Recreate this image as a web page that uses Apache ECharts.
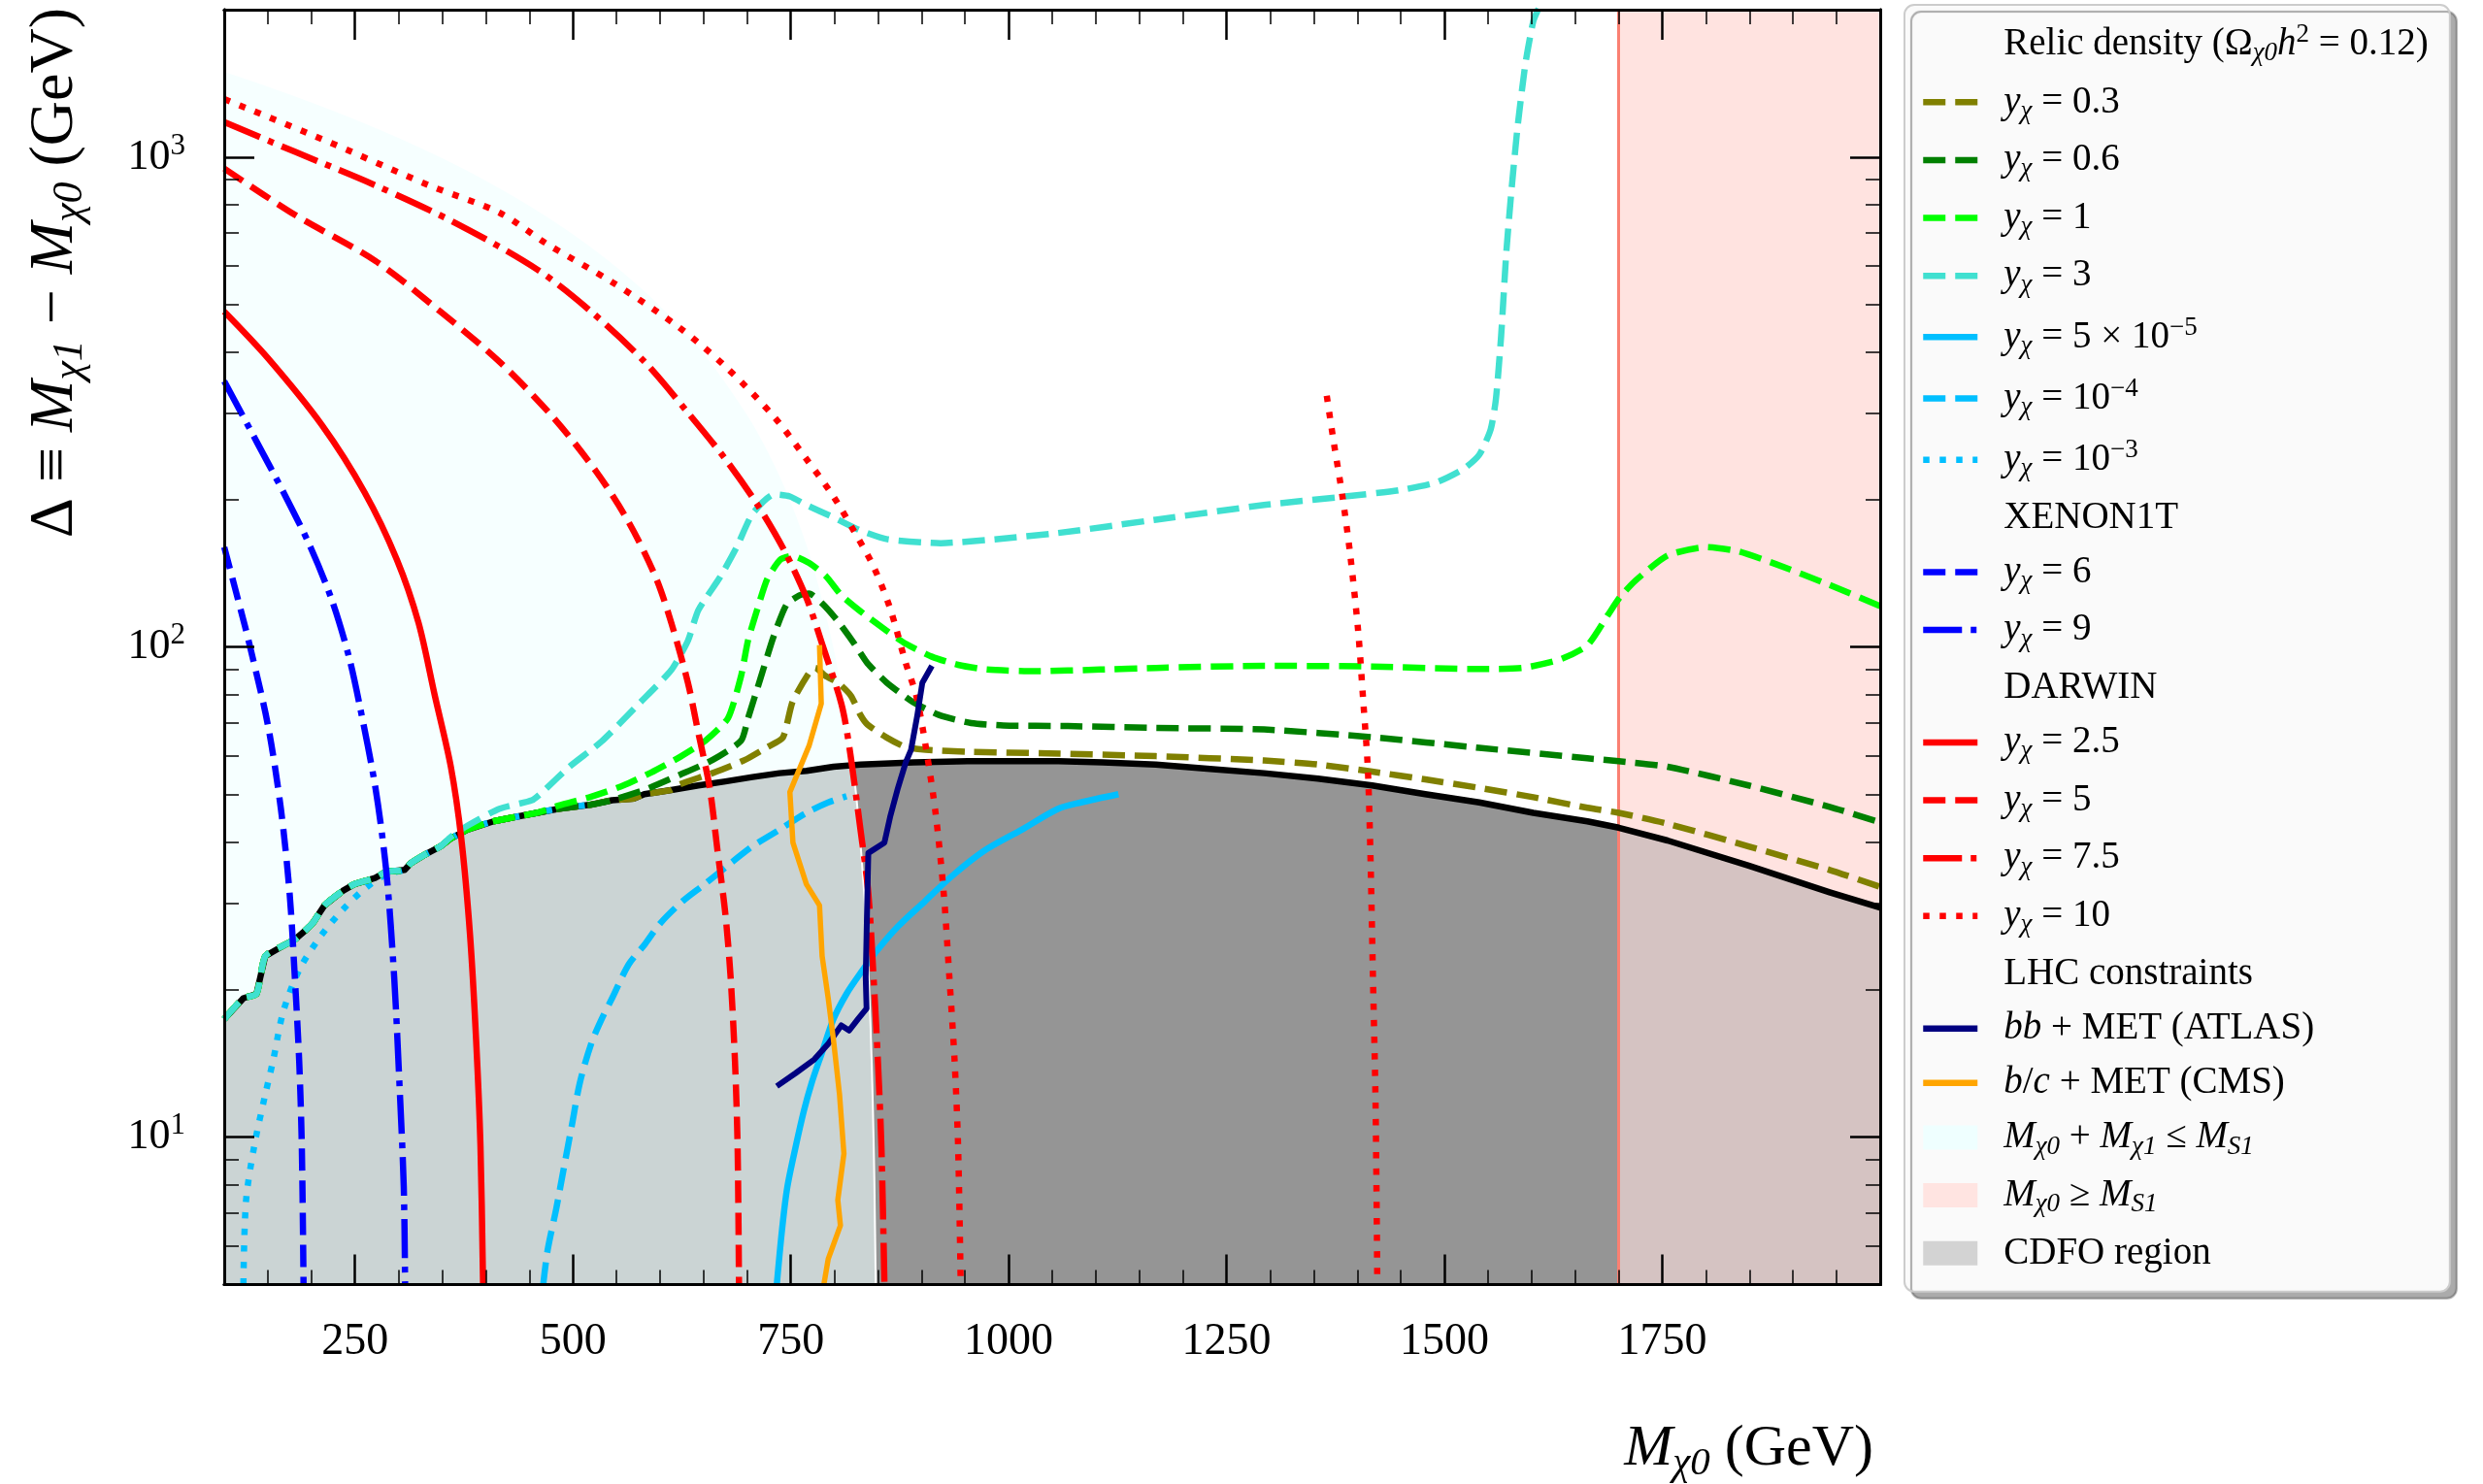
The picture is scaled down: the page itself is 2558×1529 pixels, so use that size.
<!DOCTYPE html>
<html><head><meta charset="utf-8">
<script src="https://cdn.jsdelivr.net/npm/echarts@6/dist/echarts.min.js"></script>
<style>html,body{margin:0;padding:0;background:#fff;}#c{width:2558px;height:1529px;}</style>
</head><body><div id="c"></div>
<script>
// ---------------- data ----------------
const MS1 = 1700; // M_S1 (GeV)
const xTickValues = [250, 500, 750, 1000, 1250, 1500, 1750];
const xMinorValues = [150,200,300,350,400,450,550,600,650,700,800,850,900,950,1050,1100,1150,1200,1300,1350,1400,1450,1550,1600,1650,1700,1800,1850,1900,1950];
const yTickValues = [10, 100, 1000];
const yMinorValues = [6,7,8,9,20,30,40,50,60,70,80,90,200,300,400,500,600,700,800,900];

// kinematic boundary M_chi0 + M_chi1 = M_S1
const kinBoundary = [[100,1500],[150,1400],[200,1300],[250,1200],[300,1100],[350,1000],[400,900],[450,800],[500,700],[550,600],[600,500],[650,400],[700,300],[725,250],[750,200],[775,150],[800,100],[812,76],[825,50],[835,30],[840,20],[843,14],[845,10],[846,8],[847.5,5]];

// CDFO region boundary (black)
const cdfoBoundary = [[100,17.4],[122,19.2],[137,19.6],[147,23.4],[168,24.6],[181,25.3],[193,26.4],[202,27.4],[215,29.7],[236,31.8],[249,32.8],[273,33.8],[286,34.8],[307,35.1],[314,36.2],[329,37.6],[348,39.2],[360,40.7],[379,42.4],[409,44.1],[434,45.0],[459,45.9],[484,46.8],[521,47.7],[545,48.7],[570,49.1],[582,50.1],[613,51.1],[644,52.2],[675,53.2],[706,54.3],[737,55.3],[768,55.9],[799,57.0],[830,57.6],[891,58.2],[953,58.5],[1057,58.5],[1108,58.2],[1169,57.6],[1231,56.4],[1293,55.3],[1355,53.9],[1417,52.2],[1478,50.1],[1540,48.2],[1602,45.9],[1664,44.1],[1700,42.8],[1756,40.3],[1849,35.8],[1942,31.6],[2000,29.4]];

// relic density curves
const relic03 = [[100,17.4],[122,19.2],[137,19.6],[147,23.4],[168,24.6],[181,25.3],[193,26.4],[202,27.4],[215,29.7],[236,31.8],[249,32.8],[273,33.8],[286,34.8],[307,35.1],[314,36.2],[329,37.6],[348,39.2],[360,40.7],[379,42.4],[409,44.1],[434,45.0],[459,45.9],[484,46.8],[521,47.7],[545,48.7],[570,49.1],[582,50.1],[613,51.1],[623,52.5],[660,55.3],[697,58.8],[723,62.5],[741,65.4],[752,77.3],[771,88.6],[778,90.7],[790,87.3],[804,84.7],[819,79.6],[830,72.7],[838,69.5],[860,65.4],[882,62.5],[905,61.7],[957,61.1],[1046,60.7],[1169,59.9],[1293,58.7],[1355,57.6],[1417,55.7],[1478,53.7],[1540,51.6],[1602,49.4],[1664,47.0],[1700,45.9],[1756,43.6],[1849,39.2],[1942,35.1],[2000,32.4]];
const relic06 = [[100,17.4],[122,19.2],[137,19.6],[147,23.4],[168,24.6],[181,25.3],[193,26.4],[202,27.4],[215,29.7],[236,31.8],[249,32.8],[273,33.8],[286,34.8],[307,35.1],[314,36.2],[329,37.6],[348,39.2],[360,40.7],[379,42.4],[409,44.1],[434,45.0],[459,45.9],[484,46.8],[521,47.7],[545,48.7],[582,51.1],[623,54.9],[660,58.8],[693,64.4],[701,71.6],[715,86.0],[730,104.7],[745,122],[760,127.6],[771,128.6],[786,122.8],[804,113],[823,101.6],[838,92.7],[860,84.7],[890,77.3],[920,72.7],[957,70.0],[994,69.2],[1068,69.0],[1169,68.4],[1293,67.9],[1417,65.5],[1540,62.3],[1664,59.3],[1700,58.5],[1756,57.0],[1849,52.2],[1942,47.2],[2000,43.9]];
const relic1 = [[100,17.4],[122,19.2],[137,19.6],[147,23.4],[168,24.6],[181,25.3],[193,26.4],[202,27.4],[215,29.7],[236,31.8],[249,32.8],[273,33.8],[286,34.8],[307,35.1],[314,36.2],[329,37.6],[348,39.2],[360,40.7],[379,42.4],[409,44.1],[434,45.0],[459,45.9],[484,47.5],[521,49.5],[558,52.2],[590,55.5],[623,59.7],[652,64.4],[678,71.6],[693,87.3],[701,103.2],[712,120.1],[723,137.7],[738,150.8],[752,153.6],[771,148.5],[790,139.8],[808,127.6],[830,118.3],[860,108],[882,101.6],[912,95.6],[942,92.0],[975,90.0],[1031,89.3],[1105,90.0],[1169,90.7],[1293,91.6],[1417,91.3],[1540,90.2],[1590,90.7],[1633,94.4],[1664,100.8],[1688,116.6],[1701,126.2],[1719,136.6],[1756,153.8],[1800,160],[1837,156.9],[1880,147.8],[1942,133.9],[2000,121.3]];
const relic3 = [[100,17.4],[122,19.2],[137,19.6],[147,23.4],[168,24.6],[181,25.3],[193,26.4],[202,27.4],[215,29.7],[236,31.8],[249,32.8],[273,33.8],[286,34.8],[307,35.1],[314,36.2],[329,37.6],[348,39.2],[360,41.0],[379,43.2],[416,46.8],[453,48.7],[465,50.6],[496,57.0],[533,64.2],[576,76.7],[613,89.8],[632,103],[644,119],[669,139],[688,160],[706,187],[731,205],[749,203],[768,195],[799,184],[830,173],[861,166],[922,163],[984,166],[1057,171],[1169,182],[1293,195],[1386,203],[1448,209],[1491,217],[1522,231],[1540,247],[1553,278],[1559,320],[1565,430],[1571,639],[1577,859],[1584,1156],[1593,1555],[1602,1895],[1608,2010]];
const fimp5e5 = [[734,5.0],[740,6.47],[746,7.89],[756,9.62],[765,11.3],[774,12.9],[786,14.9],[799,17.4],[814,19.6],[830,21.6],[848,23.9],[873,26.9],[904,30.3],[935,34.1],[972,38.4],[1015,42.4],[1057,46.8],[1083,48.2],[1126,50.1]];
const fimp1e4 = [[466,5.0],[471,5.87],[481,7.15],[490,8.71],[499,10.6],[508,12.9],[521,15.5],[533,17.4],[545,19.2],[564,22.5],[583,24.8],[601,27.4],[626,30.3],[651,32.8],[675,35.5],[706,39.2],[737,42.4],[768,45.9],[793,48.2],[814,49.6]];
const fimp1e3 = [[122,5.0],[125,7.4],[134.5,9.6],[147,12.2],[156,14.3],[168,18.1],[187,22.1],[212,25.9],[236,29.1],[261,32.1],[286,34.4],[307,35.1],[314,36.2],[329,37.6],[348,39.2],[360,40.7],[379,42.4],[409,44.1],[434,45.0],[459,45.9],[484,46.8],[521,47.7]];
// XENON1T
const xenon6 = [[100,160],[119,119],[128,103],[150,69.5],[165,46.8],[175,31.5],[181,21.2],[186,14.3],[189,9.6],[191,5.0]];
const xenon9 = [[100,349],[137.5,262],[168,207],[199,160],[224,124],[243,95.7],[255,76.7],[273.5,51.6],[286,34.8],[295,21.2],[301,12.9],[306,7.9],[307.5,5.0]];
// DARWIN
const darwin25 = [[100,484],[150,389],[212,284],[261,207],[298,151],[323,112],[341.5,79.8],[360,57.0],[372,40.7],[382,25.9],[389,15.8],[394,9.6],[397,5.0]];
const darwin5 = [[100,948],[181,763],[273.5,614],[348,484],[416,382],[477,295],[527,228],[564,180],[595,139],[613,112],[632,84.6],[644,66.8],[657,51.6],[666,38.4],[675,28.5],[681,21.2],[686,14.3],[689,9.6],[690.6,5.0]];
const darwin75 = [[100,1179],[181,1026],[273.5,876],[366,733],[459,590],[521,484],[582.5,382],[632,301],[675,242],[712,195],[743,157],[768,126],[786,101.5],[808,76.7],[817,62.9],[830,42.4],[839,31.5],[845,21.2],[850,14.3],[854,9.6],[857.5,5.0]];
const darwin10a = [[100,1314],[212,1089],[335,876],[416,770],[471,664],[545,556],[620,452],[675,374],[731,295],[768,242],[799,203],[823,172],[845,146],[864,120],[882,92.7],[894,79.6],[905,62.5],[916,46.1],[925.5,31.5],[932,21.2],[938,14.3],[942,9.6],[945,5.0]];
const darwin10b = [[1365,326],[1373,262],[1383,203],[1392,154],[1401,108],[1407,77],[1412,57],[1415,38.4],[1418,21.2],[1421,11.7],[1423,5.0]];
// LHC
const atlasBB = [[734,12.7],[755.5,13.5],[777,14.4],[793,15.5],[808,16.9],[817,16.5],[827,17.4],[837,18.3],[836,21.2],[837,25.9],[838,31.5],[839,38.0],[857.5,39.9],[864,45.0],[873,51.6],[882,58.2],[888,61.7],[895,72.2],[901,84.6],[912,91.6]];
const cmsBC = [[783,101],[785,76.7],[771,62.9],[749,50.6],[752.5,39.9],[768,32.8],[783,29.7],[786,23.4],[793,19.2],[799,15.8],[806,12.2],[811,9.25],[804,7.44],[807,6.6],[793,5.64],[788,5.0]];

// ---------------- chart ----------------
const F = "'Liberation Serif', 'DejaVu Serif', serif";
const DASH = [23, 10], DOT = [6.5, 10.5], DASHDOT = [40, 9, 6, 9];
const LW = 6.5;

const chart = echarts.init(document.getElementById('c'), null, {renderer: 'canvas'});

function ls(name, data, color, type, opt) {
  opt = opt || {};
  return {type: 'line', name, data, symbol: 'none', showSymbol: false, z: opt.z || 6, clip: true,
    smooth: opt.smooth || false,
    silent: true, emphasis: {disabled: true},
    lineStyle: {color, width: opt.width || LW, type: type || 'solid', cap: 'butt', join: 'round'},
    itemStyle: {color}};
}
function dummy(name) { return {type: 'line', name, data: [], symbol: 'none', silent: true}; }

const LF = 39;
const legendRich = {
  n: {fontFamily: F, fontSize: LF, lineHeight: 46, color: '#000', verticalAlign: 'middle'},
  mi: {fontFamily: F, fontSize: LF, lineHeight: 46, fontStyle: 'italic', color: '#000', verticalAlign: 'middle'},
  sb: {fontFamily: F, fontSize: 27, lineHeight: 26, fontStyle: 'italic', color: '#000', verticalAlign: 'bottom'},
  sp: {fontFamily: F, fontSize: 27, lineHeight: 26, color: '#000', verticalAlign: 'top'}
};
const Y = '{mi|y}{sb|χ}';
const legendText = {
  hRelic: '{n|Relic density (Ω}{sb|χ0}{mi|h}{sp|2}{n| = 0.12)}',
  r03: Y + '{n| = 0.3}', r06: Y + '{n| = 0.6}', r1: Y + '{n| = 1}', r3: Y + '{n| = 3}',
  f5e5: Y + '{n| = 5 × 10}{sp|−5}', f1e4: Y + '{n| = 10}{sp|−4}', f1e3: Y + '{n| = 10}{sp|−3}',
  hXenon: '{n|XENON1T}', x6: Y + '{n| = 6}', x9: Y + '{n| = 9}',
  hDarwin: '{n|DARWIN}', d25: Y + '{n| = 2.5}', d5: Y + '{n| = 5}', d75: Y + '{n| = 7.5}', d10: Y + '{n| = 10}',
  hLHC: '{n|LHC constraints}', atlas: '{mi|bb}{n| + MET (ATLAS)}', cms: '{mi|b}{n|/}{mi|c}{n| + MET (CMS)}',
  pCyan: '{mi|M}{sb|χ0}{n| + }{mi|M}{sb|χ1}{n| ≤ }{mi|M}{sb|S1}',
  pPink: '{mi|M}{sb|χ0}{n| ≥ }{mi|M}{sb|S1}',
  pCDFO: '{n|CDFO region}'
};
const hidden = {itemStyle: {opacity: 0}, lineStyle: {opacity: 0}};
const legendData = [
  Object.assign({name: 'hRelic'}, hidden), {name: 'r03'}, {name: 'r06'}, {name: 'r1'}, {name: 'r3'},
  {name: 'f5e5'}, {name: 'f1e4'}, {name: 'f1e3'},
  Object.assign({name: 'hXenon'}, hidden), {name: 'x6'}, {name: 'x9'},
  Object.assign({name: 'hDarwin'}, hidden), {name: 'd25'}, {name: 'd5'}, {name: 'd75'}, {name: 'd10'},
  Object.assign({name: 'hLHC'}, hidden), {name: 'atlas'}, {name: 'cms'},
  {name: 'pCyan', icon: 'rect', itemStyle: {color: '#EFFFFF', opacity: 1}},
  {name: 'pPink', icon: 'rect', itemStyle: {color: '#FFE4E1', opacity: 1}},
  {name: 'pCDFO', icon: 'rect', itemStyle: {color: '#D3D3D3', opacity: 1}}
];

const tickFont = {fontFamily: F, fontSize: 46, color: '#000'};
function xAx(pos, major) {
  return {type: 'value', min: 100, max: 2000, position: pos, z: 10,
    splitLine: {show: false},
    axisLine: {show: true, onZero: false, lineStyle: {color: '#000', width: 3}},
    axisTick: {show: true, inside: true, length: major ? 31 : 15,
      lineStyle: {color: '#000', width: major ? 2.5 : 1.5},
      customValues: major ? xTickValues : xMinorValues},
    axisLabel: (major && pos === 'bottom') ? Object.assign({show: true, customValues: xTickValues, margin: 36,
      formatter: v => String(Math.round(v))}, tickFont) : {show: false}
  };
}
function yAx(pos, major) {
  return {type: 'log', logBase: 10, min: 5, max: 2000, position: pos, z: 10,
    splitLine: {show: false},
    axisLine: {show: true, onZero: false, lineStyle: {color: '#000', width: 3}},
    axisTick: {show: true, inside: true, length: major ? 31 : 15,
      lineStyle: {color: '#000', width: major ? 2.5 : 1.5},
      customValues: major ? yTickValues : yMinorValues},
    axisLabel: (major && pos === 'left') ? {show: true, customValues: yTickValues, margin: 40,
      formatter: v => '{b|10}{s|' + Math.round(Math.log10(v)) + '}',
      rich: {b: {fontFamily: F, fontSize: 44, lineHeight: 54, color: '#000', verticalAlign: 'middle'},
             s: {fontFamily: F, fontSize: 31, lineHeight: 30, color: '#000', verticalAlign: 'top'}}} : {show: false}
  };
}

function titleRich(sz) {
  return {
    d: {fontFamily: F, fontSize: sz, lineHeight: sz + 11, color: '#000', verticalAlign: 'middle'},
    mi: {fontFamily: F, fontSize: sz, lineHeight: sz + 11, fontStyle: 'italic', color: '#000', verticalAlign: 'middle'},
    sb: {fontFamily: F, fontSize: Math.round(sz * 0.69), lineHeight: Math.round(sz * 0.69), fontStyle: 'italic', color: '#000', verticalAlign: 'bottom'}
  };
}

const series = [
  // pink region M_chi0 >= M_S1
  {type: 'line', name: '_pink', data: [[2000, 5]], symbol: 'none', z: 1, silent: true, lineStyle: {width: 0},
   markArea: {silent: true, itemStyle: {color: '#FFE3E0'}, data: [[{xAxis: MS1}, {xAxis: 2000}]]}},
  // CDFO region fill
  {type: 'line', name: '_cdfoL', data: cdfoBoundary.filter(p => p[0] <= MS1), symbol: 'none', z: 2, silent: true,
   lineStyle: {width: 0, opacity: 0}, areaStyle: {color: '#959595', opacity: 1, origin: 'start'}},
  {type: 'line', name: '_cdfoR', data: cdfoBoundary.filter(p => p[0] >= MS1), symbol: 'none', z: 2, silent: true,
   lineStyle: {width: 0, opacity: 0}, areaStyle: {color: '#D5C3C2', opacity: 1, origin: 'start'}},
  // kinematic region
  {type: 'line', name: '_kin', data: kinBoundary, symbol: 'none', z: 3, silent: true, smooth: 0.3,
   lineStyle: {color: '#FFFFFF', width: 2}, areaStyle: {color: 'rgba(240,255,255,0.6)', opacity: 1, origin: 'start'}},
  // M_S1 line
  {type: 'line', name: '_ms1', data: [[2000, 5]], symbol: 'none', z: 4, silent: true, lineStyle: {width: 0},
   markLine: {silent: true, symbol: ['none', 'none'], label: {show: false},
     lineStyle: {color: '#FA8072', width: 3, type: 'solid'}, data: [{xAxis: MS1}]}},
  // CDFO boundary
  ls('_cdfoLine', cdfoBoundary, '#000000', 'solid', {z: 5}),
  // relic density (freeze-in couplings)
  ls('f1e3', fimp1e3, '#00BFFF', DOT, {smooth: 0.3}),
  ls('f1e4', fimp1e4, '#00BFFF', DASH, {smooth: 0.3}),
  ls('f5e5', fimp5e5, '#00BFFF', 'solid', {smooth: 0.3}),
  ls('r03', relic03, '#808000', DASH, {smooth: 0.2}),
  ls('r06', relic06, '#008000', DASH, {smooth: 0.2}),
  ls('r1', relic1, '#00FF00', DASH, {smooth: 0.2}),
  ls('r3', relic3, '#40E0D0', DASH, {smooth: 0.2}),
  // XENON1T
  ls('x6', xenon6, '#0000FF', DASH, {smooth: 0.3}),
  ls('x9', xenon9, '#0000FF', DASHDOT, {smooth: 0.3}),
  // DARWIN
  ls('d25', darwin25, '#FF0000', 'solid', {smooth: 0.3}),
  ls('d5', darwin5, '#FF0000', DASH, {smooth: 0.3}),
  ls('d75', darwin75, '#FF0000', DASHDOT, {smooth: 0.3}),
  ls('d10', darwin10a, '#FF0000', DOT, {smooth: 0.3}),
  ls('d10', darwin10b, '#FF0000', DOT, {smooth: 0.3}),
  // LHC
  ls('atlas', atlasBB, '#000080', 'solid', {z: 7, width: 6}),
  ls('cms', cmsBC, '#FFA500', 'solid', {z: 7, width: 5.5}),
  dummy('hRelic'), dummy('hXenon'), dummy('hDarwin'), dummy('hLHC'),
  dummy('pCyan'), dummy('pPink'), dummy('pCDFO')
];

chart.setOption({
  animation: false,
  backgroundColor: '#FFFFFF',
  grid: {left: 231, top: 10, right: 621, bottom: 205.5, containLabel: false, show: false},
  xAxis: [xAx('bottom', true), xAx('bottom', false), xAx('top', true), xAx('top', false)],
  yAxis: [yAx('left', true), yAx('left', false), yAx('right', true), yAx('right', false)],
  legend: {
    show: true, orient: 'vertical', left: 1962, top: 5, selectedMode: false,
    data: legendData,
    itemWidth: 56, itemHeight: 25, itemGap: 17.15,
    padding: [17.6, 22, 20, 16],
    backgroundColor: '#FAFAFA', borderColor: '#CCCCCC', borderWidth: 2, borderRadius: 10,
    shadowColor: 'rgba(0,0,0,0.33)', shadowBlur: 1, shadowOffsetX: 7, shadowOffsetY: 7,
    itemStyle: {opacity: 0},
    lineStyle: {width: 6.5},
    formatter: name => legendText[name] || name,
    textStyle: {fontFamily: F, fontSize: LF, color: '#000', padding: [0, 0, 0, 22], rich: legendRich}
  },
  graphic: [
    {type: 'text', x: 57, y: 8, rotation: Math.PI / 2, silent: true,
     style: {text: '{d|Δ ≡ }{mi|M}{sb|χ1}{d| − }{mi|M}{sb|χ0}{d| (GeV)}', rich: titleRich(64), align: 'right', verticalAlign: 'middle'}},
    {type: 'text', x: 1930, y: 1493, silent: true,
     style: {text: '{mi|M}{sb|χ0}{d| (GeV)}', rich: titleRich(60), align: 'right', verticalAlign: 'middle'}}
  ],
  series
});
</script></body></html>
